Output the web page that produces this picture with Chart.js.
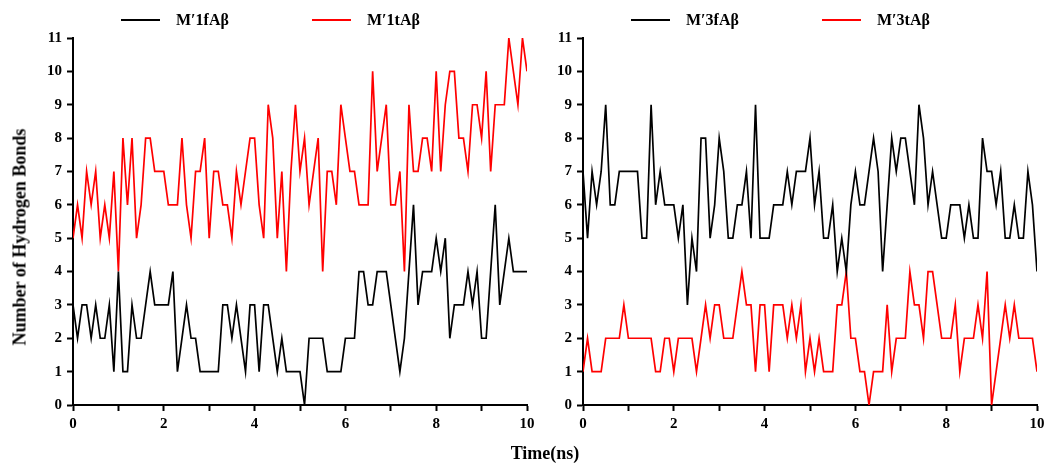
<!DOCTYPE html>
<html>
<head>
<meta charset="utf-8">
<title>Number of Hydrogen Bonds</title>
<script src="https://cdn.jsdelivr.net/npm/chart.js@4.4.1/dist/chart.umd.min.js"></script>
<style>
  body { margin: 0; background: #fff; overflow: hidden; }
  #wrap { position: relative; width: 1051px; height: 470px; }
  #left { position: absolute; left: 0; top: 0; }
  #right { position: absolute; left: 545px; top: 0; }
  .axis-title {
    position: absolute; white-space: nowrap; color: #000;
    font: bold 18px "Liberation Serif", "Times New Roman", serif;
  }
  #xtitle { left: 445px; width: 200px; top: 443px; text-align: center; }
  #ytitle { left: 20px; top: 237px; transform: translate(-50%, -50%) rotate(-90deg); }
</style>
</head>
<body>
<div id="wrap">
  <canvas id="left" width="545" height="470"></canvas>
  <canvas id="right" width="506" height="470"></canvas>
  <div id="xtitle" class="axis-title">Time(ns)</div>
  <div id="ytitle" class="axis-title">Number of Hydrogen Bonds</div>
</div>
<script>
// one frame every 0.1 ns, 0..10 ns
const time = Array.from({length: 101}, (_, i) => i / 10);

// left panel
const m1f = [3, 2, 3, 3, 2, 3, 2, 2, 3, 1, 4, 1, 1, 3, 2, 2, 3, 4, 3, 3, 3, 3, 4, 1, 2,
  3, 2, 2, 1, 1, 1, 1, 1, 3, 3, 2, 3, 2, 1, 3, 3, 1, 3, 3, 2, 1, 2, 1, 1, 1,
  1, 0, 2, 2, 2, 2, 1, 1, 1, 1, 2, 2, 2, 4, 4, 3, 3, 4, 4, 4, 3, 2, 1, 2, 4,
  6, 3, 4, 4, 4, 5, 4, 5, 2, 3, 3, 3, 4, 3, 4, 2, 2, 4, 6, 3, 4, 5, 4, 4, 4, 4];
const m1t = [5, 6, 5, 7, 6, 7, 5, 6, 5, 7, 4, 8, 6, 8, 5, 6, 8, 8, 7, 7, 7, 6, 6, 6, 8,
  6, 5, 7, 7, 8, 5, 7, 7, 6, 6, 5, 7, 6, 7, 8, 8, 6, 5, 9, 8, 5, 7, 4, 7, 9,
  7, 8, 6, 7, 8, 4, 7, 7, 6, 9, 8, 7, 7, 6, 6, 6, 10, 7, 8, 9, 6, 6, 7, 4, 9,
  7, 7, 8, 8, 7, 10, 7, 9, 10, 10, 8, 8, 7, 9, 9, 8, 10, 7, 9, 9, 9, 11, 10, 9, 11, 10];

// right panel
const m3f = [7, 5, 7, 6, 7, 9, 6, 6, 7, 7, 7, 7, 7, 5, 5, 9, 6, 7, 6, 6, 6, 5, 6, 3, 5,
  4, 8, 8, 5, 6, 8, 7, 5, 5, 6, 6, 7, 5, 9, 5, 5, 5, 6, 6, 6, 7, 6, 7, 7, 7,
  8, 6, 7, 5, 5, 6, 4, 5, 4, 6, 7, 6, 6, 7, 8, 7, 4, 6, 8, 7, 8, 8, 7, 6, 9,
  8, 6, 7, 6, 5, 5, 6, 6, 6, 5, 6, 5, 5, 8, 7, 7, 6, 7, 5, 5, 6, 5, 5, 7, 6, 4];
const m3t = [1, 2, 1, 1, 1, 2, 2, 2, 2, 3, 2, 2, 2, 2, 2, 2, 1, 1, 2, 2, 1, 2, 2, 2, 2,
  1, 2, 3, 2, 3, 3, 2, 2, 2, 3, 4, 3, 3, 1, 3, 3, 1, 3, 3, 3, 2, 3, 2, 3, 1,
  2, 1, 2, 1, 1, 1, 3, 3, 4, 2, 2, 1, 1, 0, 1, 1, 1, 3, 1, 2, 2, 2, 4, 3, 3,
  2, 4, 4, 3, 2, 2, 2, 3, 1, 2, 2, 2, 3, 2, 4, 0, 1, 2, 3, 2, 3, 2, 2, 2, 2, 1];

const xTicks = [0, 2, 4, 6, 8, 10];
const yMax = 11;

Chart.defaults.font.family = '"Liberation Serif", "Times New Roman", serif';
Chart.defaults.font.weight = 'bold';
Chart.defaults.font.size = 15;
Chart.defaults.color = '#000';

// line + label legend, drawn above the plot
const lineLegend = {
  id: 'lineLegend',
  afterDraw(chart, args, opts) {
    const {ctx, chartArea} = chart;
    ctx.save();
    ctx.font = 'bold 16px "Liberation Serif", "Times New Roman", serif';
    ctx.textBaseline = 'middle';
    chart.data.datasets.forEach((ds, i) => {
      const x = chartArea.left + opts.start + i * opts.step;
      ctx.strokeStyle = ds.borderColor;
      ctx.lineWidth = 2;
      ctx.beginPath();
      ctx.moveTo(x, opts.y);
      ctx.lineTo(x + 39, opts.y);
      ctx.stroke();
      ctx.fillStyle = '#000';
      ctx.fillText(ds.label, x + 55, opts.y + 1);
    });
    ctx.restore();
  }
};

function toPoints(values) {
  return values.map((v, i) => ({x: time[i], y: v}));
}

function makePanel(canvasId, names, series, yWidth, padRight) {
  const colors = ['#000000', '#ff0000'];
  return new Chart(document.getElementById(canvasId), {
    type: 'line',
    data: {
      datasets: series.map((s, i) => ({
        label: names[i],
        data: toPoints(s),
        borderColor: colors[i],
        borderWidth: 1.7,
        pointRadius: 0,
        tension: 0,
        fill: false
      }))
    },
    options: {
      responsive: false,
      animation: false,
      layout: {padding: {top: 38, right: padRight, left: 0, bottom: 0}},
      plugins: {
        legend: {display: false},
        tooltip: {enabled: false},
        lineLegend: {start: 48, step: 191, y: 20}
      },
      scales: {
        x: {
          type: 'linear',
          min: 0,
          max: 10,
          afterFit: (scale) => { scale.height = 65; },
          ticks: {
            stepSize: 1,
            padding: 4,
            maxRotation: 0,
            callback: (v) => (xTicks.includes(v) ? v : '')
          },
          grid: {drawOnChartArea: false, tickLength: 6, tickWidth: 2, tickColor: '#000'},
          border: {color: '#000', width: 2}
        },
        y: {
          min: 0,
          max: yMax,
          afterFit: (scale) => { scale.width = yWidth; },
          ticks: {stepSize: 1, padding: 5},
          grid: {drawOnChartArea: false, tickLength: 6, tickWidth: 2, tickColor: '#000'},
          border: {color: '#000', width: 2}
        }
      }
    },
    plugins: [lineLegend]
  });
}

makePanel('left', ['M\u20321fA\u03b2', 'M\u20321tA\u03b2'], [m1f, m1t], 73, 18);
makePanel('right', ['M\u20323fA\u03b2', 'M\u20323tA\u03b2'], [m3f, m3t], 38, 14);
</script>
</body>
</html>
